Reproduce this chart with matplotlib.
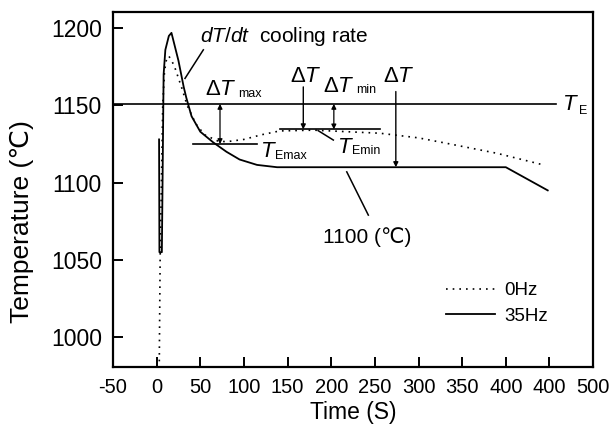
import matplotlib
matplotlib.use("Agg")
import matplotlib.pyplot as plt

plt.rcParams['font.family'] = ['Liberation Sans', 'DejaVu Sans']
plt.rcParams['mathtext.fontset'] = 'custom'
plt.rcParams['mathtext.rm'] = 'Liberation Sans'
plt.rcParams['mathtext.it'] = 'Liberation Sans:italic'

# 0Hz (dotted) and 35Hz (solid) cooling curves
t_0hz = [3, 4, 7, 9, 11, 14, 20, 26, 29, 35, 45, 55, 70, 80, 100, 120, 141, 180, 256, 300, 332, 390, 443]
T_0hz = [980, 1050, 1150, 1172, 1179, 1182, 1176, 1166, 1161, 1150, 1138, 1131, 1127, 1126.5, 1128, 1131, 1133.5, 1134, 1132, 1129, 1125.5, 1119, 1111.5]

t_35hz = [2.8, 3.2, 6, 8, 10, 14, 17, 25, 31, 34, 40, 50, 65, 80, 95, 115, 138, 400, 448]
T_35hz = [1128, 1055, 1055, 1170, 1186, 1195, 1197, 1179, 1162, 1155, 1143, 1133, 1126, 1120, 1115, 1111.5, 1110, 1110, 1095]

T_E = 1151
T_Emax = 1125
T_Emin = 1134.5

x_ticks = [-50, 0, 50, 100, 150, 200, 250, 300, 350, 400, 450, 500]
x_labels = ['-50', '0', '50', '100', '150', '200', '250', '300', '350', '400', '400', '500']
y_ticks = [1000, 1050, 1100, 1150, 1200]

fig = plt.figure(figsize=(6.14, 4.30), dpi=100)
ax = fig.add_axes([0.184, 0.146, 0.782, 0.825])

ax.plot(t_0hz, T_0hz, color='black', lw=1.2, ls=(0, (1, 3)), label='0Hz')
ax.plot(t_35hz, T_35hz, color='black', lw=1.3, label='35Hz')

# eutectic line and the two undercooling levels
ax.plot([-50, 458], [T_E, T_E], color='black', lw=1.2, clip_on=False)
ax.plot([42, 115], [T_Emax, T_Emax], color='black', lw=1.2)
ax.plot([141, 256], [T_Emin, T_Emin], color='black', lw=1.2)

arr2 = dict(arrowstyle='<|-|>', lw=0.9, color='black', shrinkA=0, shrinkB=0, mutation_scale=7)
arr1 = dict(arrowstyle='-|>', lw=1.0, color='black', shrinkA=0, shrinkB=0, mutation_scale=7)
ax.annotate('', xy=(72.6, T_Emax), xytext=(72.6, T_E), arrowprops=arr2)
ax.annotate('', xy=(203, T_Emin), xytext=(203, T_E), arrowprops=arr2)
ax.annotate('', xy=(168, T_Emin), xytext=(168, 1162), arrowprops=arr1)
ax.annotate('', xy=(274, 1110), xytext=(274, 1159), arrowprops=arr1)

# leader lines
ax.plot([53.5, 32.5], [1186, 1167.5], color='black', lw=1.1)
ax.plot([185, 202.4], [1133.7, 1127.6], color='black', lw=1.1)
ax.plot([217.8, 242.5], [1107, 1079], color='black', lw=1.1)

ax.text(49.7, 1191, r'$\mathit{dT/dt}$  cooling rate', fontsize=15, va='baseline')
ax.text(190.6, 1061, '1100 (℃)', fontsize=15, va='baseline')

# big symbols with small subscripts sitting on the baseline
big = 16
small = 9
ax.text(55.7, 1156.7, r'$\Delta\mathit{T}$', fontsize=big, va='baseline')
ax.text(93, 1155.7, 'max', fontsize=small, va='baseline')
ax.text(152.8, 1165.3, r'$\Delta\mathit{T}$', fontsize=big, va='baseline')
ax.text(190.6, 1158.8, r'$\Delta\mathit{T}$', fontsize=big, va='baseline')
ax.text(229, 1158, 'min', fontsize=small, va='baseline')
ax.text(259.3, 1165.3, r'$\Delta\mathit{T}$', fontsize=big, va='baseline')
ax.text(118.4, 1116.8, r'$\mathit{T}$', fontsize=big, va='baseline')
ax.text(135.5, 1115, 'Emax', fontsize=small, va='baseline')
ax.text(206.3, 1119, r'$\mathit{T}$', fontsize=big, va='baseline')
ax.text(224, 1118.5, 'Emin', fontsize=small, va='baseline')
ax.text(464, 1147, r'$\mathit{T}$', fontsize=big, va='baseline', clip_on=False)
ax.text(483.5, 1144.4, 'E', fontsize=small, va='baseline', clip_on=False)

ax.set_xlim(-50, 500)
ax.set_ylim(980.5, 1210.2)
ax.set_xticks(x_ticks)
ax.set_xticklabels(x_labels)
ax.set_yticks(y_ticks)
ax.tick_params(direction='in', length=7, width=1.4, pad=8)
ax.tick_params(axis='x', labelsize=14.5)
ax.tick_params(axis='y', labelsize=16.5)
for s in ax.spines.values():
    s.set_linewidth(1.6)

ax.set_xlabel('Time (S)', fontsize=16.5, labelpad=3)
ax.set_ylabel('Temperature (℃)', fontsize=19)
ax.yaxis.set_label_coords(-0.165, 0.41)

ax.legend(loc='upper left', bbox_to_anchor=(0.694, 0.24), frameon=False, fontsize=13.5,
          handlelength=2.6, labelspacing=0.45, handletextpad=0.5, borderpad=0, borderaxespad=0)

fig.savefig('out.png', dpi=100)
